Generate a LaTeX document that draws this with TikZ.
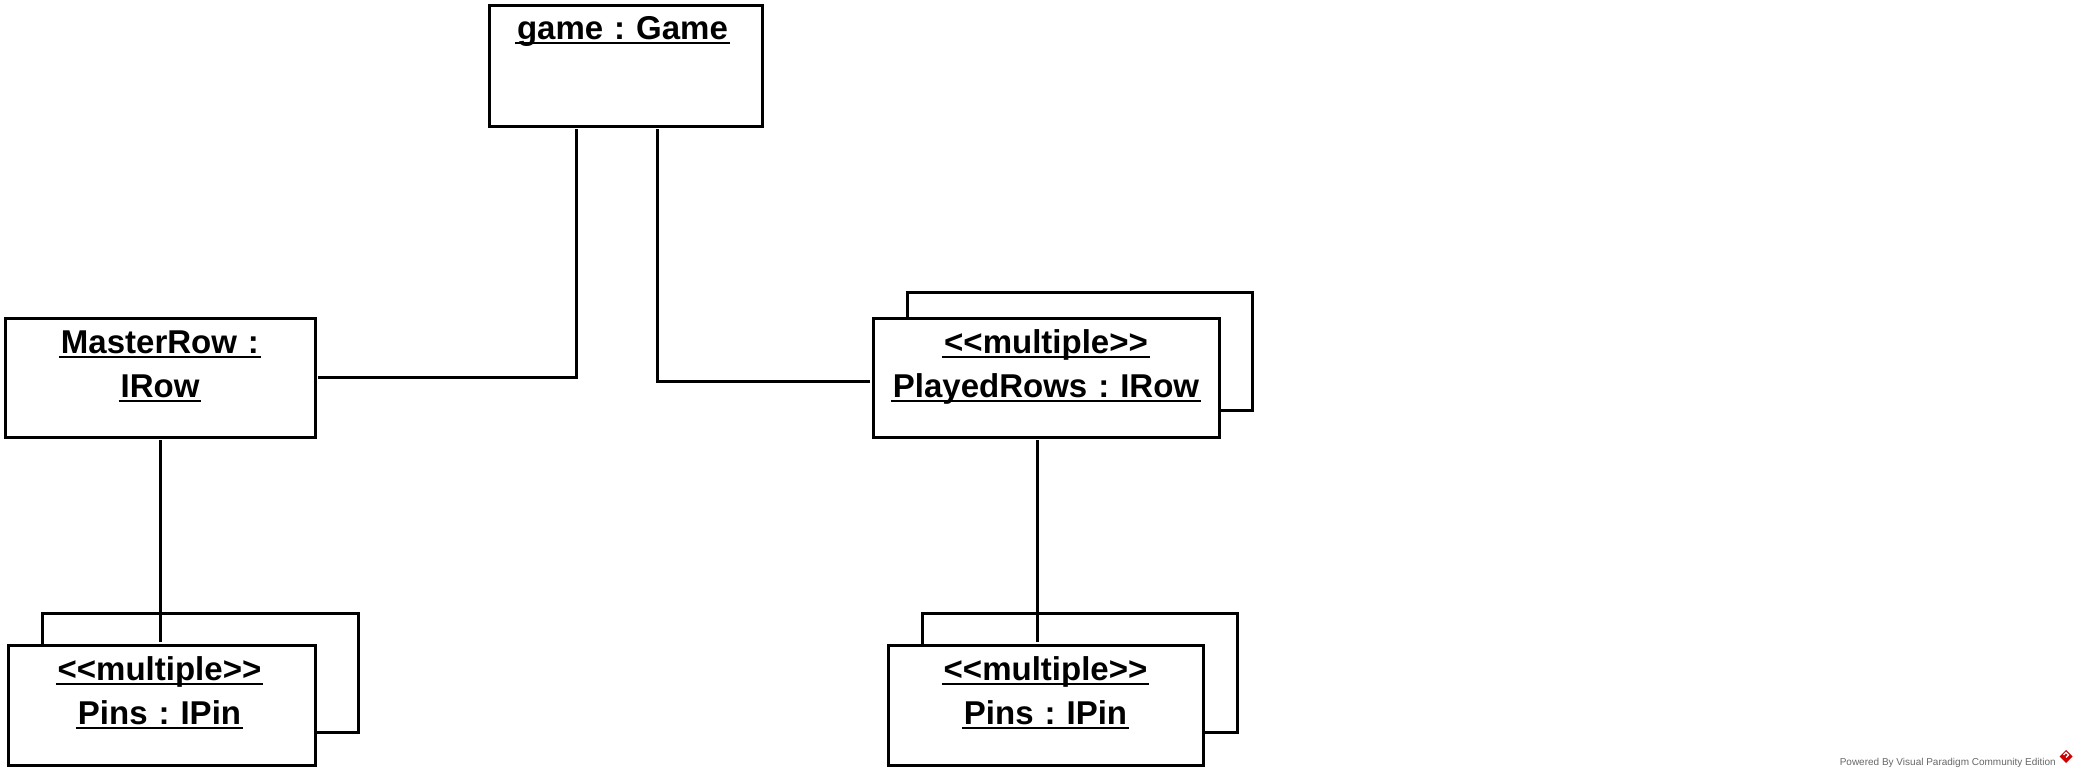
\documentclass[tikz,border=0pt]{standalone}
\usepackage{fontspec}
\setmainfont{Liberation Sans}
\usetikzlibrary{positioning}

\newsavebox{\ulbox}
\newcommand{\ulined}[1]{\sbox{\ulbox}{#1}\makebox[0pt][l]{\hspace{-2pt}\rule[-5pt]{\dimexpr\wd\ulbox+4pt\relax}{2.5pt}}\usebox{\ulbox}}
\newcommand{\objfont}{\bfseries\fontsize{33}{44}\selectfont\frenchspacing}
\newcommand{\multi}{<{}<multiple>{}>}

\begin{document}
\begin{tikzpicture}[x=1pt, y=-1pt,
  objbox/.style={draw, line width=3pt, fill=white, inner sep=0pt, outer sep=3pt},
  objtext/.style={font=\objfont, text width=#1, align=center, anchor=base, inner sep=0pt},
  link/.style={line width=3pt}]

  \useasboundingbox (0,0) rectangle (2082,777);

  % Object boxes (back copies first for the stacks)
  \node[objbox, minimum width=273pt, minimum height=121pt] (game) at (625.5,65.5) {};
  \node[objbox, minimum width=310pt, minimum height=119pt] (master) at (160,377.5) {};
  \node[objbox, minimum width=345pt, minimum height=118pt] (playedback) at (1079.5,351) {};
  \node[objbox, minimum width=346pt, minimum height=119pt] (played) at (1046,377.5) {};
  \node[objbox, minimum width=316pt, minimum height=119pt] (pinsLback) at (200,672.5) {};
  \node[objbox, minimum width=307pt, minimum height=120pt] (pinsL) at (161.5,705) {};
  \node[objbox, minimum width=315pt, minimum height=119pt] (pinsRback) at (1079.5,672.5) {};
  \node[objbox, minimum width=315pt, minimum height=120pt] (pinsR) at (1045.5,705) {};

  % Labels
  \node[objtext=260pt] (gamelbl) at ([xshift=-3pt, yshift=-37pt]game.north)
    {\ulined{game : Game}};
  \node[objtext=300pt] (masterlbl) at ([yshift=-38pt]master.north)
    {\ulined{MasterRow :}\\\ulined{IRow}};
  \node[objtext=340pt] (playedlbl) at ([yshift=-38pt]played.north)
    {\ulined{\multi}\\\ulined{PlayedRows : IRow}};
  \node[objtext=300pt] (pinsLlbl) at ([xshift=-2pt, yshift=-38pt]pinsL.north)
    {\ulined{\multi}\\\ulined{Pins : IPin}};
  \node[objtext=300pt] (pinsRlbl) at ([yshift=-38pt]pinsR.north)
    {\ulined{\multi}\\\ulined{Pins : IPin}};

  % Links
  \draw[link] ([xshift=-49.5pt]game.south) |- (master.east);
  \draw[link] ([xshift=31.5pt]game.south) |- ([yshift=-3.5pt]played.west);
  \draw[link] (master.south) -- (master.south |- pinsL.north);
  \draw[link] ([xshift=-8.5pt]played.south) -- ([xshift=-8pt]pinsR.north);

  % Watermark
  \node[font=\fontsize{10}{12}\selectfont, text=black!60, anchor=base east, inner sep=0pt]
    (wm) at (2056,765) {Powered By Visual Paradigm Community Edition};
  \fill[red!80!black] (2066,750) -- (2072.5,756.5) -- (2066,763) -- (2059.5,756.5) -- cycle;
  \draw[white, line width=1.2pt] (2063.5,755) -- (2066,752.5) -- (2068.5,755) -- (2066,757.5);
\end{tikzpicture}
\end{document}
